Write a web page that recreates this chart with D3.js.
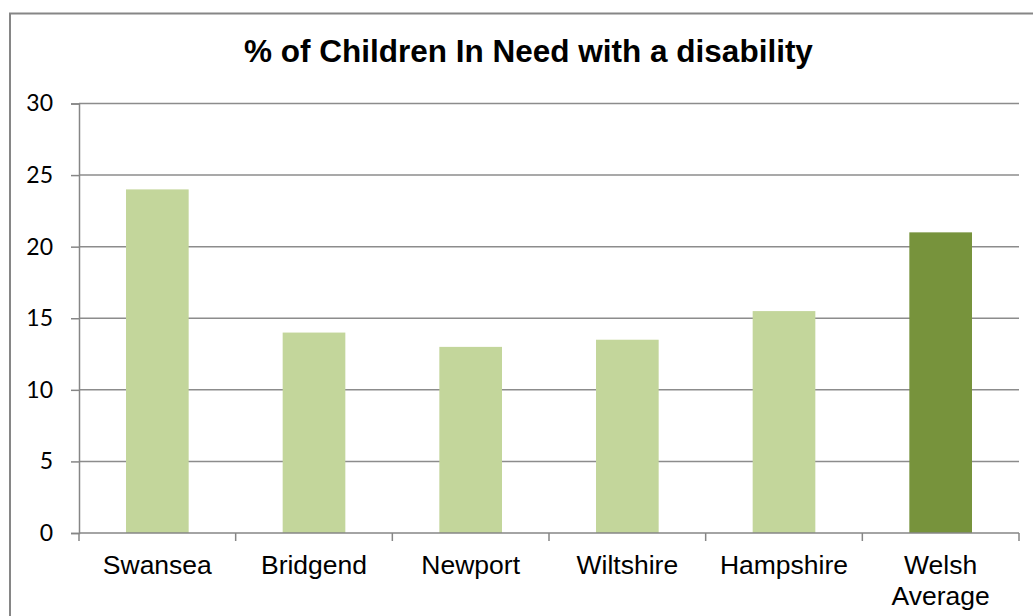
<!DOCTYPE html>
<html>
<head>
<meta charset="utf-8">
<script src="https://cdn.jsdelivr.net/npm/d3@7"></script>
<style>
  body { margin: 0; background: #fff; }
  svg { display: block; }
</style>
</head>
<body>
<svg id="chart" width="1033" height="616"></svg>
<script>
// chart data
const categories = ["Swansea", "Bridgend", "Newport", "Wiltshire", "Hampshire", "Welsh Average"];
const values = [24, 14, 13, 13.5, 15.5, 21];
const barColors = ["#c3d69b", "#c3d69b", "#c3d69b", "#c3d69b", "#c3d69b", "#77933c"];
const yTicks = [0, 5, 10, 15, 20, 25, 30];
const title = "% of Children In Need with a disability";

const svg = d3.select("#chart");
const plot = { left: 79, right: 1019, top: 103.5, bottom: 533 };

// outer chart border (right and bottom run off the picture)
svg.append("rect")
    .attr("x", 10).attr("y", 13.5)
    .attr("width", 1040).attr("height", 640)
    .attr("fill", "none").attr("stroke", "#868686").attr("stroke-width", 2);

const x = d3.scaleBand()
    .domain(categories)
    .range([plot.left, plot.right])
    .paddingInner(0.6).paddingOuter(0.3);

const y = d3.scaleLinear().domain([0, 30]).range([plot.bottom, plot.top]);

// gridlines
svg.append("g").selectAll("line")
    .data(yTicks.filter(d => d > 0))
    .join("line")
    .attr("x1", plot.left).attr("x2", plot.right)
    .attr("y1", d => y(d)).attr("y2", d => y(d))
    .attr("stroke", "#8c8c8c").attr("stroke-width", 1.5);

// bars
svg.append("g").selectAll("rect")
    .data(values)
    .join("rect")
    .attr("x", (d, i) => x(categories[i]))
    .attr("y", d => y(d))
    .attr("width", x.bandwidth())
    .attr("height", d => y(0) - y(d))
    .attr("fill", (d, i) => barColors[i]);

// y axis
const yAxis = svg.append("g")
    .attr("transform", `translate(${plot.left},0)`)
    .call(d3.axisLeft(y).tickValues(yTicks).tickSize(8).tickPadding(18));
yAxis.select(".domain").attr("stroke", "#868686").attr("stroke-width", 1.5);
yAxis.selectAll(".tick line").attr("stroke", "#868686").attr("stroke-width", 1.5);
yAxis.selectAll(".tick text")
    .style("font-family", "Lato, 'Open Sans', sans-serif")
    .style("font-size", "23px").attr("fill", "#000");

// x axis: baseline plus ticks at category boundaries
const step = x.step();
const bounds = d3.range(categories.length + 1).map(i => plot.left + i * step);
const xAxis = svg.append("g");
xAxis.append("line")
    .attr("x1", plot.left).attr("x2", plot.right)
    .attr("y1", y(0)).attr("y2", y(0))
    .attr("stroke", "#868686").attr("stroke-width", 1.5);
xAxis.selectAll("line.tick")
    .data(bounds)
    .join("line").attr("class", "tick")
    .attr("x1", d => d).attr("x2", d => d)
    .attr("y1", y(0)).attr("y2", y(0) + 8)
    .attr("stroke", "#868686").attr("stroke-width", 1.5);

// category labels, wrapped on spaces for the long one
xAxis.selectAll("text")
    .data(categories)
    .join("text")
    .attr("x", d => x(d) + x.bandwidth() / 2)
    .attr("y", 574)
    .attr("text-anchor", "middle")
    .attr("font-family", "'Liberation Sans', Arial, sans-serif")
    .attr("font-size", 26.5)
    .attr("fill", "#000")
    .each(function(d) {
        const words = d.length > 10 ? d.split(" ") : [d];
        const t = d3.select(this);
        words.forEach((w, i) => {
            t.append("tspan")
                .attr("x", x(d) + x.bandwidth() / 2)
                .attr("dy", i === 0 ? 0 : 31)
                .text(w);
        });
    });

// title
svg.append("text")
    .attr("x", 528.5).attr("y", 62)
    .attr("text-anchor", "middle")
    .attr("font-family", "'Liberation Sans', Arial, sans-serif")
    .attr("font-weight", "bold")
    .attr("font-size", 31.5)
    .attr("fill", "#000")
    .text(title);
</script>
</body>
</html>
